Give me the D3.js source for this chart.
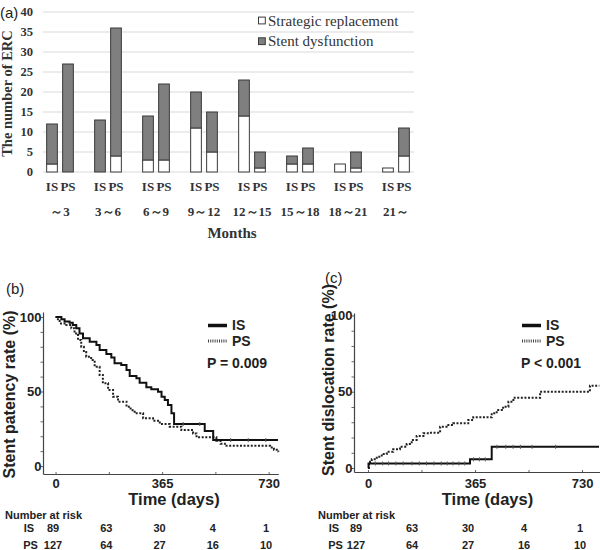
<!DOCTYPE html>
<html><head><meta charset="utf-8">
<script src="https://cdn.jsdelivr.net/npm/d3@7"></script>
<style>body{margin:0;background:#fff}</style></head>
<body><svg width="600" height="550"></svg>
<script>
// ---------- Panel (a) data ----------
const categories = ["～3","3～6","6～9","9～12","12～15","15～18","18～21","21～"];
const groups = ["IS","PS"];
const isStrategic   = [2, 0, 3, 11, 14, 2, 2, 1];
const isDysfunction = [10,13,11, 9,  9, 2, 0, 0];
const psStrategic   = [0, 4, 3, 5, 1, 2, 1, 4];
const psDysfunction = [27,32,19,10, 4, 4, 4, 7];
const yTicksA = [0,5,10,15,20,25,30,35,40];
const legendA = ["Strategic replacement","Stent dysfunction"];

// ---------- Panels (b),(c) data: [day, %] step points ----------
const patencyIS = [[0,100],[20,98.5],[31,97],[48,96.2],[59,94.6],[71,92.4],[82,89],[94,85.7],[117,83.4],[140,81.2],[151,77.9],[174,75.2],[191,72.9],[202,68.9],[225,67.8],[243,64.4],[254,60.4],[277,58.9],[288,55.9],[311,52.8],[328,51.5],[351,49.9],[363,46.5],[374,44.3],[385,40.9],[397,35.4],[406,28.2],[511,23.5],[540,17.4],[762,17.4]];
const patencyPS = [[0,100],[8,97.5],[14,95.7],[37,94.6],[54,92.4],[65,89],[77,84.6],[88,80],[97,76.5],[105,73.4],[122,71.1],[134,66.6],[151,61.1],[162,55.5],[180,51],[197,46.5],[214,43.2],[243,39.8],[257,37.5],[271,35.4],[300,32],[334,30.4],[357,28.2],[391,26.4],[431,24.2],[471,21.9],[483,19.3],[551,17],[565,15],[580,13.6],[735,12.5],[748,11],[758,9.8],[763,9.6]];
const dislocIS = [[0,0],[2,3],[348,5.7],[422,13.9],[788,13.9]];
const dislocPS = [[0,0],[3,2.4],[7,4.1],[13,5.7],[30,7.4],[47,9.2],[64,10.7],[86,12.3],[109,14],[132,15.7],[149,18.4],[166,21],[189,22.8],[211,23.1],[246,27.1],[268,28.2],[291,29.3],[342,31.5],[359,33.2],[422,35.9],[439,38],[461,40.2],[479,43.5],[496,46.1],[587,50],[757,54],[789,54]];
const censorPatencyIS = [437,494,600,660,720];
const censorDislocIS = [25,50,70,95,120,150,175,200,225,250,270,290,310,330,360,380,400,440,470,495,520,560,640];
const xTickDays = [0,365,730];
const riskDays = [0,182.5,365,547.5,730];
const riskIS = [89,63,30,4,1];
const riskPS = [127,64,27,16,10];

const svg = d3.select("svg");
const serif = "'Liberation Serif','Times New Roman',serif";
const sans = "'Liberation Sans',Arial,sans-serif";

// ================= Panel (a) =================
const ya = d3.scaleLinear().domain([0,40]).range([172,12]);
const xa = d3.scaleBand().domain(categories).range([36,420]);
const xi = d3.scaleBand().domain(groups).range([10.65,37.35]).paddingInner(0.33);
const ga = svg.append("g");
ga.selectAll("line.grid").data(yTicksA).join("line")
  .attr("x1",43).attr("x2",414).attr("y1",d=>ya(d)).attr("y2",d=>ya(d))
  .attr("stroke","#d9d9d9").attr("stroke-width",1);
ga.selectAll("text.yt").data(yTicksA).join("text")
  .attr("x",33).attr("y",d=>ya(d)).attr("text-anchor","end").attr("dominant-baseline","central")
  .attr("font-family",serif).attr("font-weight","bold").attr("font-size",12.5).attr("fill","#333")
  .text(d=>d);
const rows = [];
categories.forEach((c,i)=>{
  rows.push({cat:c, group:"IS", strategic:isStrategic[i], dysfunction:isDysfunction[i]});
  rows.push({cat:c, group:"PS", strategic:psStrategic[i], dysfunction:psDysfunction[i]});
});
const stacked = d3.stack().keys(["strategic","dysfunction"])(rows);
const fills = {strategic:"#ffffff", dysfunction:"#7f7f7f"};
stacked.forEach(layer=>{
  ga.append("g").selectAll("rect").data(layer.filter(d=>d[1]>d[0])).join("rect")
    .attr("x",d=>xa(d.data.cat)+xi(d.data.group)).attr("width",xi.bandwidth())
    .attr("y",d=>ya(d[1])).attr("height",d=>ya(d[0])-ya(d[1]))
    .attr("fill",fills[layer.key]).attr("stroke","#3a3a3a").attr("stroke-width",1);
});
rows.forEach(r=>{
  ga.append("text").attr("x",xa(r.cat)+xi(r.group)+xi.bandwidth()/2).attr("y",186.7)
    .attr("text-anchor","middle").attr("dominant-baseline","central")
    .attr("font-family",serif).attr("font-weight","bold").attr("font-size",13).attr("fill","#333").text(r.group);
});
ga.selectAll("text.cat").data(categories).join("text")
  .attr("x",d=>xa(d)+xa.bandwidth()/2).attr("y",211.7)
  .attr("text-anchor","middle").attr("dominant-baseline","central")
  .attr("font-family",serif).attr("font-weight","bold").attr("font-size",13).attr("fill","#333").text(d=>d);
ga.append("text").attr("x",232).attr("y",232.5).attr("text-anchor","middle").attr("dominant-baseline","central")
  .attr("font-family",serif).attr("font-weight","bold").attr("font-size",15).attr("fill","#333").text("Months");
ga.append("text").attr("transform","translate(7,93.5) rotate(-90)").attr("text-anchor","middle").attr("dominant-baseline","central")
  .attr("font-family",serif).attr("font-weight","bold").attr("font-size",14.5).attr("fill","#333").text("The number of ERC");
ga.append("text").attr("x",0).attr("y",12.5).attr("dominant-baseline","central")
  .attr("font-family",sans).attr("font-size",15).attr("fill","#222").text("(a)");
legendA.forEach((t,i)=>{
  const yy = 20.5 + i*20.7;
  ga.append("rect").attr("x",258.5).attr("y",yy-3.4).attr("width",6.8).attr("height",6.8)
    .attr("fill",i===0?"#fff":"#7f7f7f").attr("stroke","#3a3a3a").attr("stroke-width",1);
  ga.append("text").attr("x",268).attr("y",yy).attr("dominant-baseline","central")
    .attr("font-family",serif).attr("font-size",15).attr("fill","#333").text(t);
});

// ================= KM panels =================
function stepValue(data, day){
  const i = d3.bisector(d=>d[0]).right(data, day) - 1;
  return data[Math.max(0,i)][1];
}
function km(cfg){
  const g = svg.append("g");
  const x = d3.scaleLinear().domain(cfg.xDom).range(cfg.xRange);
  const y = d3.scaleLinear().domain(cfg.yDom).range(cfg.yRange);
  const style = sel => { sel.attr("font-family",sans).attr("font-size",13).attr("font-weight","bold");
    sel.selectAll("text").attr("fill","#222"); sel.select(".domain").attr("stroke","#444").attr("stroke-width",1.2); sel.selectAll(".tick line").attr("stroke","#666"); };
  g.append("g").attr("transform",`translate(0,${cfg.yRange[0]})`)
    .call(d3.axisBottom(x).tickValues(riskDays).tickSize(-2).tickSizeOuter(0).tickFormat(""))
    .call(style);
  g.append("g").attr("transform",`translate(0,${cfg.yRange[0]})`)
    .call(d3.axisBottom(x).tickValues(xTickDays).tickSize(0).tickSizeOuter(0).tickPadding(cfg.xPad))
    .call(style).call(s=>s.select(".domain").remove());
  g.append("g").attr("transform",`translate(${cfg.xRange[0]},0)`)
    .call(d3.axisLeft(y).tickValues(d3.range(0,101,10)).tickSize(2.5).tickSizeOuter(0).tickFormat(""))
    .call(style);
  g.append("g").attr("transform",`translate(${cfg.xRange[0]},0)`)
    .call(d3.axisLeft(y).tickValues([0,50,100]).tickSize(0).tickSizeOuter(0).tickPadding(1.5))
    .call(style).call(s=>s.select(".domain").remove());
  const line = d3.line().x(d=>x(d[0])).y(d=>y(d[1])).curve(d3.curveStepAfter);
  g.append("path").attr("d",line(cfg.ps)).attr("fill","none").attr("stroke","#222").attr("stroke-width",2).attr("stroke-dasharray","2,1.6");
  g.append("path").attr("d",line(cfg.is)).attr("fill","none").attr("stroke","#111").attr("stroke-width",2);
  g.selectAll("line.cens").data(cfg.censIS).join("line")
    .attr("x1",d=>x(d)).attr("x2",d=>x(d)).attr("y1",d=>y(stepValue(cfg.is,d))-2).attr("y2",d=>y(stepValue(cfg.is,d))+2)
    .attr("stroke","#555").attr("stroke-width",1);
  // y title
  g.append("text").attr("transform",`translate(${cfg.titleX},${cfg.titleY}) rotate(-90)`)
    .attr("text-anchor","middle").attr("dominant-baseline","central")
    .attr("font-family",sans).attr("font-weight","bold").attr("font-size",16).attr("fill","#222").text(cfg.title);
  g.append("text").attr("x",cfg.timeX).attr("y",499).attr("text-anchor","middle").attr("dominant-baseline","central")
    .attr("font-family",sans).attr("font-weight","bold").attr("font-size",16.5).attr("fill","#222").text("Time (days)");
  g.append("text").attr("x",cfg.tagX).attr("y",cfg.tagY).attr("dominant-baseline","central")
    .attr("font-family",sans).attr("font-size",15).attr("fill","#222").text(cfg.tag);
  // legend
  const lx = cfg.legX;
  g.append("line").attr("x1",lx).attr("x2",lx+19).attr("y1",325.5).attr("y2",325.5).attr("stroke","#111").attr("stroke-width",3.5);
  g.append("line").attr("x1",lx).attr("x2",lx+19).attr("y1",341).attr("y2",341).attr("stroke","#444").attr("stroke-width",3).attr("stroke-dasharray","1,1.2");
  [["IS",325],["PS",340.5]].forEach(([t,yy])=>{
    g.append("text").attr("x",lx+24).attr("y",yy).attr("dominant-baseline","central")
      .attr("font-family",sans).attr("font-weight","bold").attr("font-size",14).attr("fill","#222").text(t);
  });
  g.append("text").attr("x",lx-1).attr("y",363).attr("dominant-baseline","central")
    .attr("font-family",sans).attr("font-weight","bold").attr("font-size",14).attr("fill","#222").text(cfg.p);
  // risk table
  const rx = d3.scaleLinear().domain([0,730]).range(cfg.riskRange);
  const tf = sel => sel.attr("font-family",sans).attr("font-weight","bold").attr("font-size",11).attr("fill","#222").attr("dominant-baseline","central");
  g.append("text").attr("x",cfg.numX).attr("y",514.5).call(tf).text("Number at risk");
  g.append("text").attr("x",cfg.grpX).attr("y",528.3).attr("text-anchor","middle").call(tf).text("IS");
  g.append("text").attr("x",cfg.grpX+1.5).attr("y",545).attr("text-anchor","middle").call(tf).text("PS");
  g.selectAll("text.ris").data(riskDays).join("text").attr("x",(d)=>rx(d)).attr("y",528.3).attr("text-anchor","middle").call(tf).text((d,i)=>riskIS[i]);
  g.selectAll("text.rps").data(riskDays).join("text").attr("x",(d)=>rx(d)).attr("y",545).attr("text-anchor","middle").call(tf).text((d,i)=>riskPS[i]);
}

km({xDom:[-43,763], xRange:[43,278.3], yDom:[-5.35,103.35], yRange:[474,312], xPad:5,
    is:patencyIS, ps:patencyPS, censIS:censorPatencyIS, title:"Stent patency rate (%)", titleX:9, titleY:394.5,
    timeX:174, tag:"(b)", tagX:6, tagY:288.5, legX:208, p:"P = 0.009", riskRange:[53,266], numX:5, grpX:29});
km({xDom:[-47.7,790], xRange:[354,599.6], yDom:[-2.6,101.6], yRange:[472,313], xPad:7,
    is:dislocIS, ps:dislocPS, censIS:censorDislocIS, title:"Stent dislocation rate (%)", titleX:328, titleY:380,
    timeX:487.5, tag:"(c)", tagX:325, tagY:277, legX:522, p:"P < 0.001", riskRange:[356,580], numX:318, grpX:334});
</script></body></html>
